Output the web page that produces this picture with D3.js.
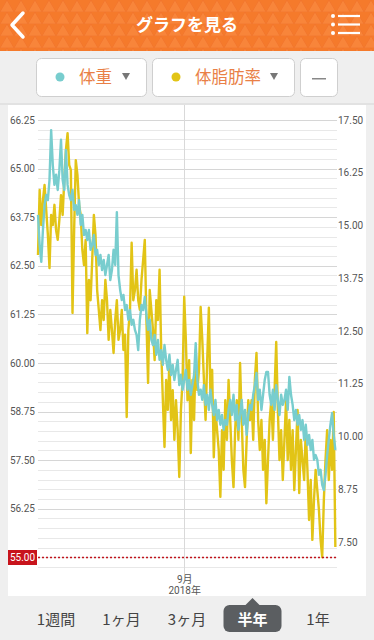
<!DOCTYPE html>
<html>
<head>
<meta charset="utf-8">
<script src="https://cdn.jsdelivr.net/npm/d3@7"></script>
<style>
  body { margin: 0; background: #efefef; font-family: Roboto, "Noto Sans CJK JP", sans-serif; }
  svg { display: block; }
</style>
</head>
<body>
<div id="chart"></div>
<script>
// 体重 (kg), one value per day from 2018-06-04
const weight = [
  63.81,63.04,62.60,63.42,64.06,64.32,64.19,64.71,65.99,65.09,
  64.58,64.84,64.45,64.96,65.74,64.71,64.45,65.48,64.58,64.32,
  64.19,64.45,63.94,64.06,63.81,64.19,63.55,63.81,63.29,63.42,
  63.16,63.42,62.91,63.04,63.29,62.78,62.91,62.52,62.78,62.39,
  62.65,62.26,62.52,62.78,62.13,62.39,62.91,62.52,63.88,62.26,
  61.88,61.62,61.75,61.36,61.49,61.11,61.36,60.98,61.11,60.85,
  60.72,60.33,61.11,61.49,61.36,61.70,61.23,60.85,61.11,60.59,
  60.46,60.72,60.21,60.59,60.08,60.33,59.95,60.46,60.08,59.82,
  60.21,59.69,59.95,59.56,59.82,60.08,59.43,59.69,59.31,59.56,
  59.82,59.31,59.56,59.18,59.43,59.69,60.51,59.56,59.18,59.31,
  59.05,59.43,58.92,59.18,58.79,59.31,58.92,58.66,59.05,58.53,
  58.79,58.41,58.66,58.28,58.53,58.41,58.79,59.05,58.66,59.18,
  58.53,58.92,58.28,58.66,59.05,58.41,58.79,58.15,58.66,58.92,
  58.79,59.18,59.43,59.74,59.05,59.31,58.79,59.18,59.56,59.77,
  59.77,59.18,58.92,59.31,58.79,59.43,59.05,58.66,59.18,58.92,
  59.05,59.31,58.79,59.64,59.18,58.92,58.53,58.79,58.41,58.66,
  58.28,58.53,58.02,58.41,57.89,58.15,57.76,58.02,57.51,57.63,
  57.51,57.12,57.25,56.86,56.73,57.12,57.63,58.02,58.41,58.71,58.15,57.76
];

// 体脂肪率 (%)
const bodyFat = [
  14.30,15.84,15.01,15.60,15.96,15.37,14.78,13.99,15.25,15.01,
  15.49,14.89,14.66,15.13,15.72,15.25,16.08,16.79,17.19,16.43,
  16.32,12.93,14.89,16.55,16.20,15.49,15.25,14.42,14.06,14.66,
  12.45,13.71,13.23,14.18,15.25,14.78,13.47,13.00,12.52,13.23,
  12.76,13.71,13.23,12.29,13.00,12.52,11.98,12.76,13.23,12.29,
  12.52,13.00,12.05,12.41,10.46,12.52,13.00,14.59,13.23,13.47,
  13.95,13.23,13.00,13.71,14.18,14.66,12.76,11.27,13.47,13.00,
  12.52,11.81,13.23,12.76,13.95,12.05,10.86,9.75,11.34,10.63,
  11.81,10.39,11.10,9.92,10.86,10.15,9.04,10.63,11.34,13.31,
  12.29,10.86,11.81,9.61,11.34,10.39,12.05,11.10,11.58,13.07,
  12.29,11.34,10.39,11.81,13.05,10.86,11.58,9.51,10.63,10.15,
  9.68,8.57,10.15,9.21,10.86,9.92,11.34,10.39,9.44,8.80,
  10.15,10.86,9.92,11.74,10.39,9.21,8.80,9.92,10.86,10.39,
  10.86,9.92,11.34,11.98,10.39,9.68,10.39,9.21,9.92,8.42,
  9.44,10.39,10.86,9.92,11.10,12.24,10.63,9.44,10.15,8.97,
  9.92,10.86,9.44,10.39,9.21,10.15,8.73,9.68,10.63,8.66,
  9.92,9.44,8.97,10.15,9.21,8.02,8.97,7.55,8.50,9.21,
  8.73,8.26,7.55,7.14,8.50,9.44,10.15,8.97,9.92,9.21,10.58,7.38
];

const startDate = new Date(2018, 5, 4);
const endDate = new Date(2018, 11, 3);
const leftTicks = [56.25, 57.50, 58.75, 60.00, 61.25, 62.50, 63.75, 65.00, 66.25];
const rightTicks = [7.50, 8.75, 10.00, 11.25, 12.50, 13.75, 15.00, 16.25, 17.50];
const goalWeight = 55.00;
const monthTick = new Date(2018, 8, 1);
const monthLabel = ["9月", "2018年"];
const seriesNames = ["体重", "体脂肪率"];
const tabs = ["1週間", "1ヶ月", "3ヶ月", "半年", "1年"];
const selectedTab = "半年";
const title = "グラフを見る";

const W = 374, H = 640;
const plot = { left: 38, right: 337, top: 120, bottom: 567 };
const teal = "#78cdce", yellow = "#e2c416", orange = "#f57a2b";

const svg = d3.select("#chart").append("svg")
    .attr("width", W)
    .attr("height", H);

// ---- header
const defs = svg.append("defs");
const pat = defs.append("pattern")
    .attr("id", "tri")
    .attr("width", 14)
    .attr("height", 12)
    .attr("patternUnits", "userSpaceOnUse");
pat.append("rect").attr("width", 14).attr("height", 12).attr("fill", orange);
pat.append("path")
    .attr("d", "M0,12 L7,0 L14,12 Z")
    .attr("fill", "#f8853a")
    .attr("stroke", "#f0712a")
    .attr("stroke-width", 0.6);

svg.append("rect").attr("width", W).attr("height", 51).attr("fill", "url(#tri)");

svg.append("path")
    .attr("d", "M23,13 L12,25 L23,37")
    .attr("fill", "none")
    .attr("stroke", "#fff")
    .attr("stroke-width", 3.5)
    .attr("stroke-linecap", "round")
    .attr("stroke-linejoin", "round");

svg.append("text")
    .attr("x", W / 2)
    .attr("y", 31)
    .attr("text-anchor", "middle")
    .attr("fill", "#fff")
    .style("font-size", "17px")
    .style("font-weight", "bold")
    .style("font-family", "'Noto Sans CJK JP', sans-serif")
    .text(title);

[16, 24.5, 33].forEach(y => {
    svg.append("circle").attr("cx", 333).attr("cy", y).attr("r", 2).attr("fill", "#fff");
    svg.append("rect").attr("x", 338).attr("y", y - 1.1).attr("width", 22).attr("height", 2.2).attr("fill", "#fff");
});

// ---- selector buttons
const buttons = [
    { x: 36, w: 110, name: seriesNames[0], color: teal },
    { x: 152, w: 142, name: seriesNames[1], color: yellow }
];
buttons.forEach(b => {
    const g = svg.append("g");
    g.append("rect")
        .attr("x", b.x + 0.5).attr("y", 58.5)
        .attr("width", b.w).attr("height", 38)
        .attr("rx", 5)
        .attr("fill", "#fff")
        .attr("stroke", "#cfcfcf");
    g.append("circle").attr("cx", b.x + 24).attr("cy", 77).attr("r", 4.5).attr("fill", b.color);
    g.append("text")
        .attr("x", b.x + 43)
        .attr("y", 83)
        .attr("fill", "#e97f46")
        .style("font-size", "16.5px")
        .style("font-family", "'Noto Sans CJK JP', sans-serif")
        .text(b.name);
    g.append("path")
        .attr("d", `M${b.x + b.w - 24},73 L${b.x + b.w - 16},73 L${b.x + b.w - 20},80 Z`)
        .attr("fill", "#777");
});
svg.append("rect")
    .attr("x", 300.5).attr("y", 58.5)
    .attr("width", 37).attr("height", 38)
    .attr("rx", 5)
    .attr("fill", "#fff")
    .attr("stroke", "#cfcfcf");
svg.append("rect").attr("x", 312).attr("y", 78).attr("width", 14).attr("height", 1.5).attr("fill", "#888");

// ---- chart panel
svg.append("rect").attr("x", 0).attr("y", 103).attr("width", W).attr("height", 2).attr("fill", "#e2e2e2");
svg.append("rect").attr("x", 8).attr("y", 105).attr("width", 358).attr("height", 491).attr("fill", "#fff");

const x = d3.scaleTime().domain([startDate, endDate]).range([plot.left, plot.right]);
const yL = d3.scaleLinear().domain([54.75, 66.25]).range([plot.bottom, plot.top]);
const yR = d3.scaleLinear().domain([7.5, 17.5]).range([542, plot.top]);

const grid = svg.append("g");
grid.selectAll("line.minor")
    .data(d3.range(54.75, 66.26, 0.25))
    .enter().append("line")
    .attr("class", "minor")
    .attr("x1", plot.left).attr("x2", plot.right)
    .attr("y1", d => Math.round(yL(d)) + 0.5)
    .attr("y2", d => Math.round(yL(d)) + 0.5)
    .attr("stroke", "#e8e8e8");
grid.selectAll("line.major")
    .data(leftTicks)
    .enter().append("line")
    .attr("class", "major")
    .attr("x1", plot.left).attr("x2", plot.right)
    .attr("y1", d => Math.round(yL(d)) + 0.5)
    .attr("y2", d => Math.round(yL(d)) + 0.5)
    .attr("stroke", "#d6d6d6");

// month marker
svg.append("line")
    .attr("x1", Math.round(x(monthTick)) + 0.5).attr("x2", Math.round(x(monthTick)) + 0.5)
    .attr("y1", 105).attr("y2", 574)
    .attr("stroke", "#d9d9d9");

const xAxis = svg.append("g")
    .attr("transform", `translate(0,${plot.bottom + 6})`)
    .call(d3.axisBottom(x).tickValues([monthTick]).tickSize(0).tickFormat(() => ""));
xAxis.select(".domain").remove();
xAxis.selectAll(".tick text").each(function() {
    const t = d3.select(this)
        .attr("y", 0)
        .attr("fill", "#555")
        .style("font-size", "10px")
        .style("font-family", "Roboto, 'Noto Sans CJK JP', sans-serif");
    monthLabel.forEach((s, i) => {
        t.append("tspan").attr("x", 0).attr("dy", i === 0 ? "0.95em" : "1.1em").text(s);
    });
});

// axes
const leftAxis = svg.append("g")
    .attr("transform", `translate(${plot.left},0)`)
    .call(d3.axisLeft(yL).tickValues(leftTicks).tickSize(0).tickPadding(3).tickFormat(d3.format(".2f")));
leftAxis.select(".domain").remove();
leftAxis.selectAll("text").attr("fill", "#555").style("font-size", "10px").style("font-family", "Roboto, sans-serif");

const rightAxis = svg.append("g")
    .attr("transform", `translate(${plot.right},0)`)
    .call(d3.axisRight(yR).tickValues(rightTicks).tickSize(0).tickPadding(1).tickFormat(d3.format(".2f")));
rightAxis.select(".domain").remove();
rightAxis.selectAll("text").attr("fill", "#555").style("font-size", "10px").style("font-family", "Roboto, sans-serif");

// lines
const dayOf = i => d3.timeDay.offset(startDate, i);
const line = d3.line()
    .x((d, i) => x(dayOf(i)));

svg.append("path")
    .datum(bodyFat)
    .attr("fill", "none")
    .attr("stroke", yellow)
    .attr("stroke-width", 2.4)
    .attr("stroke-linejoin", "round")
    .attr("d", line.y(d => yR(d)));

svg.append("path")
    .datum(weight)
    .attr("fill", "none")
    .attr("stroke", teal)
    .attr("stroke-width", 2.4)
    .attr("stroke-linejoin", "round")
    .attr("d", line.y(d => yL(d)));

// goal line
const gy = Math.round(yL(goalWeight)) + 0.5;
svg.append("line")
    .attr("x1", plot.left).attr("x2", plot.right)
    .attr("y1", gy).attr("y2", gy)
    .attr("stroke", "#c0141c")
    .attr("stroke-width", 1.5)
    .attr("stroke-dasharray", "2,2");
svg.append("rect")
    .attr("x", 8).attr("y", gy - 7.5)
    .attr("width", 29).attr("height", 15)
    .attr("fill", "#c8141c");
svg.append("text")
    .attr("x", 22.5).attr("y", gy + 3.5)
    .attr("text-anchor", "middle")
    .attr("fill", "#fff")
    .style("font-size", "10px")
    .text(d3.format(".2f")(goalWeight));

// ---- period tabs
const tabX = d3.scalePoint().domain(tabs).range([56, 318]);
const sel = tabX(selectedTab);
svg.append("path")
    .attr("d", `M${sel - 8},606 L${sel},598 L${sel + 8},606 Z`)
    .attr("fill", "#5b5e61");
svg.append("rect")
    .attr("x", sel - 29).attr("y", 605)
    .attr("width", 58).attr("height", 27)
    .attr("rx", 6)
    .attr("fill", "#5b5e61");
svg.selectAll("text.tab")
    .data(tabs)
    .enter().append("text")
    .attr("class", "tab")
    .attr("x", d => tabX(d))
    .attr("y", 625)
    .attr("text-anchor", "middle")
    .attr("fill", d => d === selectedTab ? "#fff" : "#444")
    .style("font-size", "15px")
    .style("font-weight", d => d === selectedTab ? "bold" : "normal")
    .style("font-family", "'Noto Sans CJK JP', sans-serif")
    .text(d => d);
</script>
</body>
</html>
